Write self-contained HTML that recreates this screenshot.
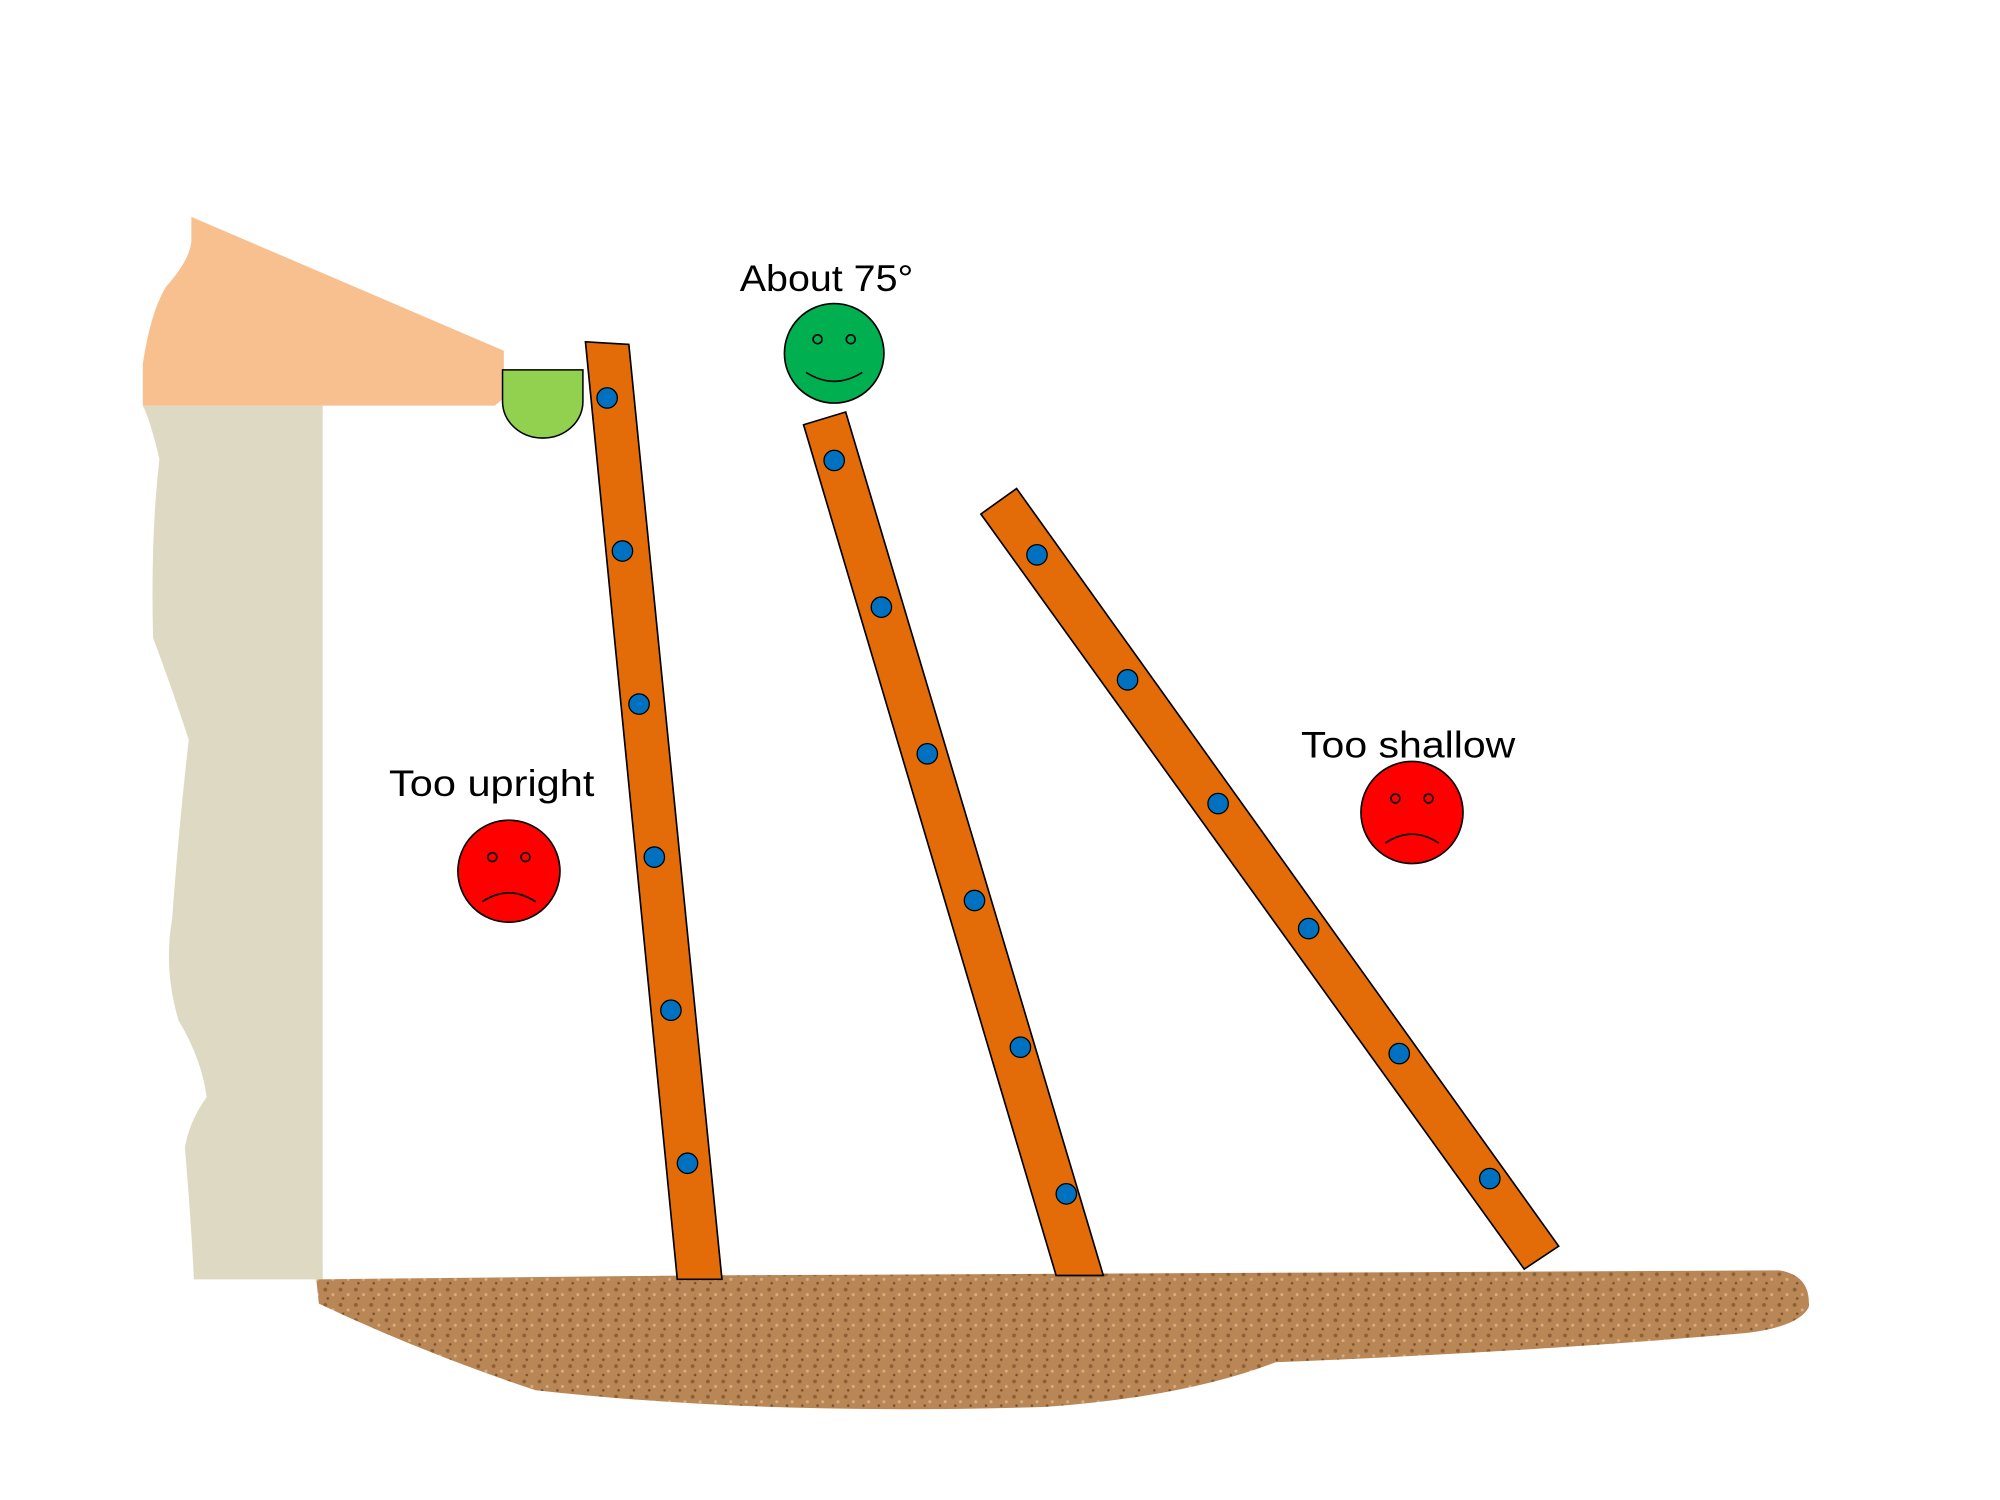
<!DOCTYPE html>
<html><head><meta charset="utf-8"><style>
html,body{margin:0;padding:0;background:#fff;width:2000px;height:1500px;overflow:hidden}
svg{display:block}
text{font-family:"Liberation Sans",sans-serif;font-size:29px;fill:#000}
</style></head><body>
<svg width="2000" height="1500" viewBox="0 0 1568 1176" xmlns="http://www.w3.org/2000/svg">
<defs>
<pattern id="dirt" width="12" height="12" patternUnits="userSpaceOnUse">
<rect width="12" height="12" fill="#B98656"/>
<circle cx="3" cy="3" r="1.5" fill="#8E5E35"/>
<circle cx="9" cy="7" r="1.2" fill="#D8AE80"/>
<circle cx="5" cy="10" r="1" fill="#7A4E2A"/>
</pattern>
</defs>
<path d="M150,170 L395,275 L395,312 L388,318 L112,318 L112,285 Q118,245 130,225 Q148,205 150,190 Z" fill="#F8BF8F"/>
<path d="M112,318 L253,318 L253,1003 L152,1003 Q150,960 145,900 Q148,880 162,860 Q158,830 140,800 Q128,760 135,720 Q140,650 148,580 Q135,540 120,500 Q118,420 125,360 Q118,330 112,318 Z" fill="#DDD9C3"/>
<path d="M394,290 L457,290 L457,315 A31,28 0 0 1 394,315 Z" fill="#92D050" stroke="#000" stroke-width="1.2"/>
<path d="M248,1003 L540,1000 L1395,996 Q1420,1000 1418,1025 Q1410,1040 1370,1045 Q1200,1060 1000,1068 Q930,1095 820,1103 Q600,1110 420,1090 Q330,1060 250,1022 Z" fill="url(#dirt)"/>
<polygon points="459,268 493,270 566,1003 531,1003" fill="#E36C09" stroke="#000" stroke-width="1.3"/>
<polygon points="630,333 663,323 865,1000 828,1000" fill="#E36C09" stroke="#000" stroke-width="1.3"/>
<polygon points="769,403 797,383 1222,977 1195,995" fill="#E36C09" stroke="#000" stroke-width="1.3"/>
<g fill="#0070C0" stroke="#000" stroke-width="1">
<circle cx="476" cy="312" r="8"/><circle cx="488" cy="432" r="8"/><circle cx="501" cy="552" r="8"/><circle cx="513" cy="672" r="8"/><circle cx="526" cy="792" r="8"/><circle cx="539" cy="912" r="8"/>
<circle cx="654" cy="361" r="8"/><circle cx="691" cy="476" r="8"/><circle cx="727" cy="591" r="8"/><circle cx="764" cy="706" r="8"/><circle cx="800" cy="821" r="8"/><circle cx="836" cy="936" r="8"/>
<circle cx="813" cy="435" r="8"/><circle cx="884" cy="533" r="8"/><circle cx="955" cy="630" r="8"/><circle cx="1026" cy="728" r="8"/><circle cx="1097" cy="826" r="8"/><circle cx="1168" cy="924" r="8"/>
</g>
<g stroke="#000" stroke-width="1.3">
<circle cx="654" cy="277" r="39" fill="#00B050"/>
<circle cx="641" cy="266" r="3.5" fill="none"/><circle cx="667" cy="266" r="3.5" fill="none"/>
<path d="M632,292 Q654,306 676,292" fill="none"/>
<circle cx="399" cy="683" r="40" fill="#FF0000"/>
<circle cx="386" cy="672" r="3.5" fill="none"/><circle cx="412" cy="672" r="3.5" fill="none"/>
<path d="M378,707 Q399,693 420,707" fill="none"/>
<circle cx="1107" cy="637" r="40" fill="#FF0000"/>
<circle cx="1094" cy="626" r="3.5" fill="none"/><circle cx="1120" cy="626" r="3.5" fill="none"/>
<path d="M1086,661 Q1107,647 1128,661" fill="none"/>
</g>
<text x="580" y="228" textLength="136" lengthAdjust="spacingAndGlyphs">About 75°</text>
<text x="305" y="624" textLength="161" lengthAdjust="spacingAndGlyphs">Too upright</text>
<text x="1020" y="594" textLength="168" lengthAdjust="spacingAndGlyphs">Too shallow</text>
</svg>
</body></html>
